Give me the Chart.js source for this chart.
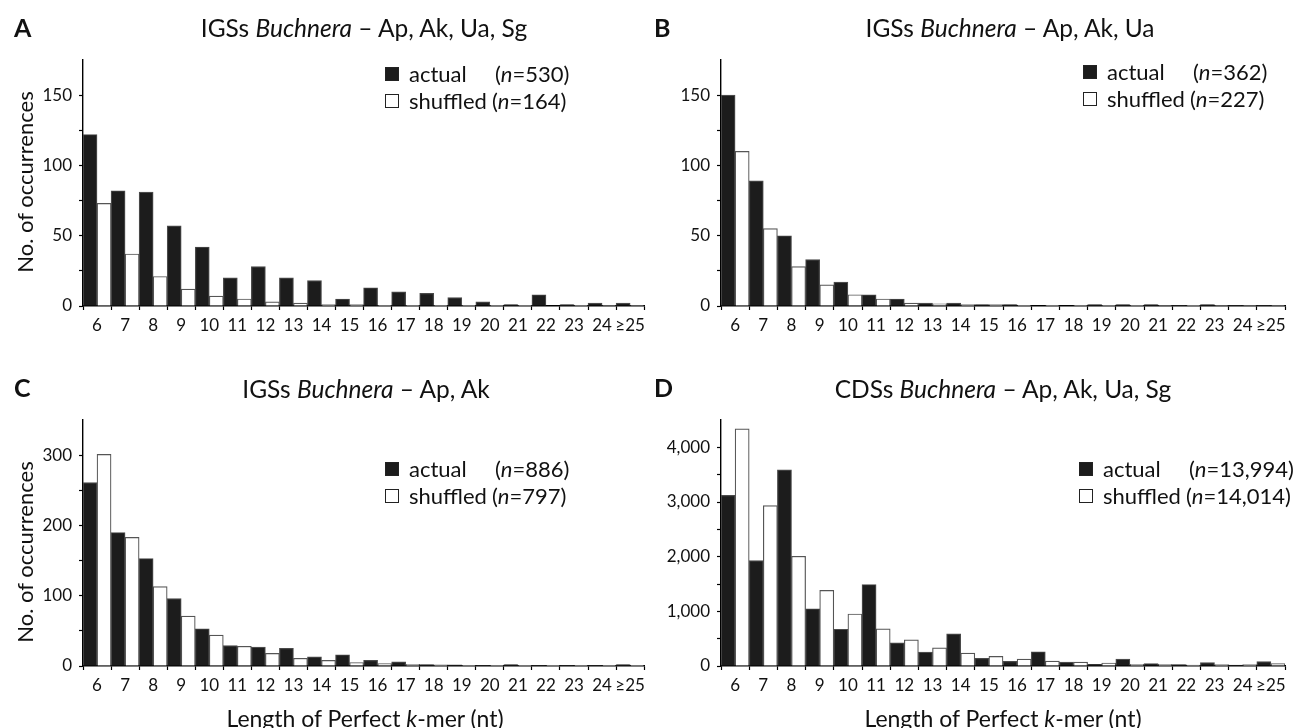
<!DOCTYPE html>
<html>
<head>
<meta charset="utf-8">
<script src="https://cdn.jsdelivr.net/npm/chart.js@4"></script>
<style>
    body { margin: 0; background: #fff; }
    #wrap { position: relative; width: 1301px; height: 728px; overflow: hidden; font-family: Lato, 'Open Sans', sans-serif; color: #111; }
    canvas { position: absolute; }
    .txt { position: absolute; white-space: nowrap; transform: translate(-50%, -50%); font-size: 23px; line-height: 1; }
    .title { font-size: 24.5px; }
    .letter { position: absolute; font-weight: bold; font-size: 25px; line-height: 1; transform: translateY(-50%); }
    .ytitle { position: absolute; white-space: nowrap; font-size: 22px; line-height: 1; transform: translate(-50%, -50%) rotate(-90deg); }
    .legend { position: absolute; display: grid; grid-template-columns: 24px auto auto; column-gap: 0; row-gap: 4px; align-items: center; font-size: 22px; line-height: 23px; white-space: nowrap; }
    .legend .sq { width: 14px; height: 14px; box-sizing: border-box; border: 1px solid #222; }
    .legend .sq.dark { background: #1c1c1c; }
    .legend .sq.light { background: #fff; }
    .legend .n { padding-left: 5px; }
    .legend .n.first { padding-left: 8px; }
</style>
</head>
<body>
<div id="wrap">
    <canvas id="chartA" width="650" height="340" style="left:0;top:0"></canvas>
    <canvas id="chartB" width="651" height="340" style="left:650px;top:0"></canvas>
    <canvas id="chartC" width="650" height="368" style="left:0;top:360px"></canvas>
    <canvas id="chartD" width="651" height="368" style="left:650px;top:360px"></canvas>

    <div class="letter" style="left:14px;top:27px">A</div>
    <div class="letter" style="left:654px;top:27px">B</div>
    <div class="letter" style="left:14px;top:387px">C</div>
    <div class="letter" style="left:654px;top:387px">D</div>

    <div class="txt title" style="left:364px;top:28px">IGSs <i>Buchnera</i> – Ap, Ak, Ua, Sg</div>
    <div class="txt title" style="left:1010px;top:28px">IGSs <i>Buchnera</i> – Ap, Ak, Ua</div>
    <div class="txt title" style="left:366px;top:389px">IGSs <i>Buchnera</i> – Ap, Ak</div>
    <div class="txt title" style="left:1003px;top:389px">CDSs <i>Buchnera</i> – Ap, Ak, Ua, Sg</div>

    <div class="ytitle" style="left:25px;top:182px">No. of occurrences</div>
    <div class="ytitle" style="left:25px;top:552px">No. of occurrences</div>

    <div class="txt" style="left:365px;top:718px">Length of Perfect <i>k</i>-mer (nt)</div>
    <div class="txt" style="left:1003px;top:718px">Length of Perfect <i>k</i>-mer (nt)</div>

    <div class="legend" style="left:385px;top:62px">
        <div class="sq dark"></div><div>actual</div><div class="n first">(<i>n</i>=530)</div>
        <div class="sq light"></div><div>shuffled</div><div class="n">(<i>n</i>=164)</div>
    </div>
    <div class="legend" style="left:1083px;top:60px">
        <div class="sq dark"></div><div>actual</div><div class="n first">(<i>n</i>=362)</div>
        <div class="sq light"></div><div>shuffled</div><div class="n">(<i>n</i>=227)</div>
    </div>
    <div class="legend" style="left:385px;top:457px">
        <div class="sq dark"></div><div>actual</div><div class="n first">(<i>n</i>=886)</div>
        <div class="sq light"></div><div>shuffled</div><div class="n">(<i>n</i>=797)</div>
    </div>
    <div class="legend" style="left:1079px;top:457px">
        <div class="sq dark"></div><div>actual</div><div class="n first">(<i>n</i>=13,994)</div>
        <div class="sq light"></div><div>shuffled</div><div class="n">(<i>n</i>=14,014)</div>
    </div>
</div>

<script>
// k-mer length categories (x axis)
const kmerLabels = ['6', '7', '8', '9', '10', '11', '12', '13', '14', '15',
                    '16', '17', '18', '19', '20', '21', '22', '23', '24', '≥25'];

// A: IGSs Ap, Ak, Ua, Sg
const igs4Actual   = [122, 82, 81, 57, 42, 20, 28, 20, 18, 5, 13, 10, 9, 6, 3, 1, 8, 1, 2, 2];
const igs4Shuffled = [73, 37, 21, 12, 7, 5, 3, 2, 1, 1, 0.5, 0.5, 0.5, 0.5, 0.5, 0.5, 0, 0.5, 0.3, 0.3];

// B: IGSs Ap, Ak, Ua
const igs3Actual   = [150, 89, 50, 33, 17, 8, 5, 2, 2, 1, 1, 0, 0, 1, 1, 1, 0.3, 1, 0.3, 0.5];
const igs3Shuffled = [110, 55, 28, 15, 8, 5, 2, 1.5, 1, 1, 0.5, 0.5, 0.5, 0.5, 0.5, 0.3, 0.5, 0.3, 0.3, 0.3];

// C: IGSs Ap, Ak
const igs2Actual   = [261, 190, 153, 96, 53, 29, 27, 25, 13, 16, 8, 6, 2, 1.5, 1, 2, 0.5, 0.5, 0.5, 2];
const igs2Shuffled = [301, 183, 113, 71, 44, 28, 18, 11, 8, 5, 3.5, 2.5, 1.5, 1, 1, 0.5, 0.5, 1, 1, 0.3];

// D: CDSs Ap, Ak, Ua, Sg
const cdsActual    = [3121, 1927, 3588, 1048, 673, 1491, 424, 255, 588, 139, 85, 261, 73, 30, 127, 42, 24, 61, 18, 79];
const cdsShuffled  = [4339, 2933, 2006, 1382, 952, 679, 479, 333, 236, 176, 127, 91, 73, 55, 30, 30, 18, 24, 24, 42];

// y axis ranges: [max, minor step, labelled step]
const yRangeA = [175, 25, 50];
const yRangeB = [175, 25, 50];
const yRangeC = [350, 50, 100];
const yRangeD = [4500, 500, 1000];

const tickFont = { family: "Lato, 'Open Sans', sans-serif", size: 17 };

function buildChart(id, actual, shuffled, yRange, yWidth, xHeight, padRight) {
    const ctx = document.getElementById(id);
    const [yMax, yStep, yLabelStep] = yRange;
    return new Chart(ctx, {
        type: 'bar',
        data: {
            labels: kmerLabels,
            datasets: [
                {
                    label: 'actual',
                    data: actual,
                    backgroundColor: '#1c1c1c',
                    borderColor: '#4a4a4a',
                    borderWidth: 1.2,
                    categoryPercentage: 1,
                    barPercentage: 1
                },
                {
                    label: 'shuffled',
                    data: shuffled,
                    backgroundColor: '#ffffff',
                    borderColor: '#555555',
                    borderWidth: 1.2,
                    categoryPercentage: 1,
                    barPercentage: 1
                }
            ]
        },
        options: {
            responsive: false,
            animation: false,
            devicePixelRatio: 1,
            layout: { padding: { top: 60, right: padRight, left: 0, bottom: 0 } },
            plugins: {
                legend: { display: false },
                tooltip: { enabled: false }
            },
            scales: {
                x: {
                    grid: {
                        display: true,
                        drawOnChartArea: false,
                        drawTicks: true,
                        tickLength: 4,
                        tickColor: '#000',
                        tickWidth: 1.2,
                        offset: true
                    },
                    border: { color: '#000', width: 1.4 },
                    ticks: {
                        color: '#111',
                        font: tickFont,
                        padding: 5,
                        maxRotation: 0,
                        autoSkip: false
                    },
                    afterFit: (scale) => { scale.height = xHeight; }
                },
                y: {
                    min: 0,
                    max: yMax,
                    grid: {
                        drawOnChartArea: false,
                        drawTicks: true,
                        tickLength: 4,
                        tickColor: '#000',
                        tickWidth: 1.2
                    },
                    border: { color: '#000', width: 1.4 },
                    ticks: {
                        stepSize: yStep,
                        color: '#111',
                        font: tickFont,
                        padding: 7,
                        callback: function(value) {
                            if (value % yLabelStep !== 0) return '';
                            return value.toLocaleString('en-US');
                        }
                    },
                    afterBuildTicks: (scale) => {
                        scale.ticks = scale.ticks.filter(t => t.value < yMax);
                    },
                    afterFit: (scale) => { scale.width = yWidth; }
                }
            }
        }
    });
}

buildChart('chartA', igs4Actual, igs4Shuffled, yRangeA, 83, 34, 3);
buildChart('chartB', igs3Actual, igs3Shuffled, yRangeB, 71, 34, 16);
buildChart('chartC', igs2Actual, igs2Shuffled, yRangeC, 83, 62, 3);
buildChart('chartD', cdsActual, cdsShuffled, yRangeD, 71, 62, 16);
</script>
</body>
</html>
